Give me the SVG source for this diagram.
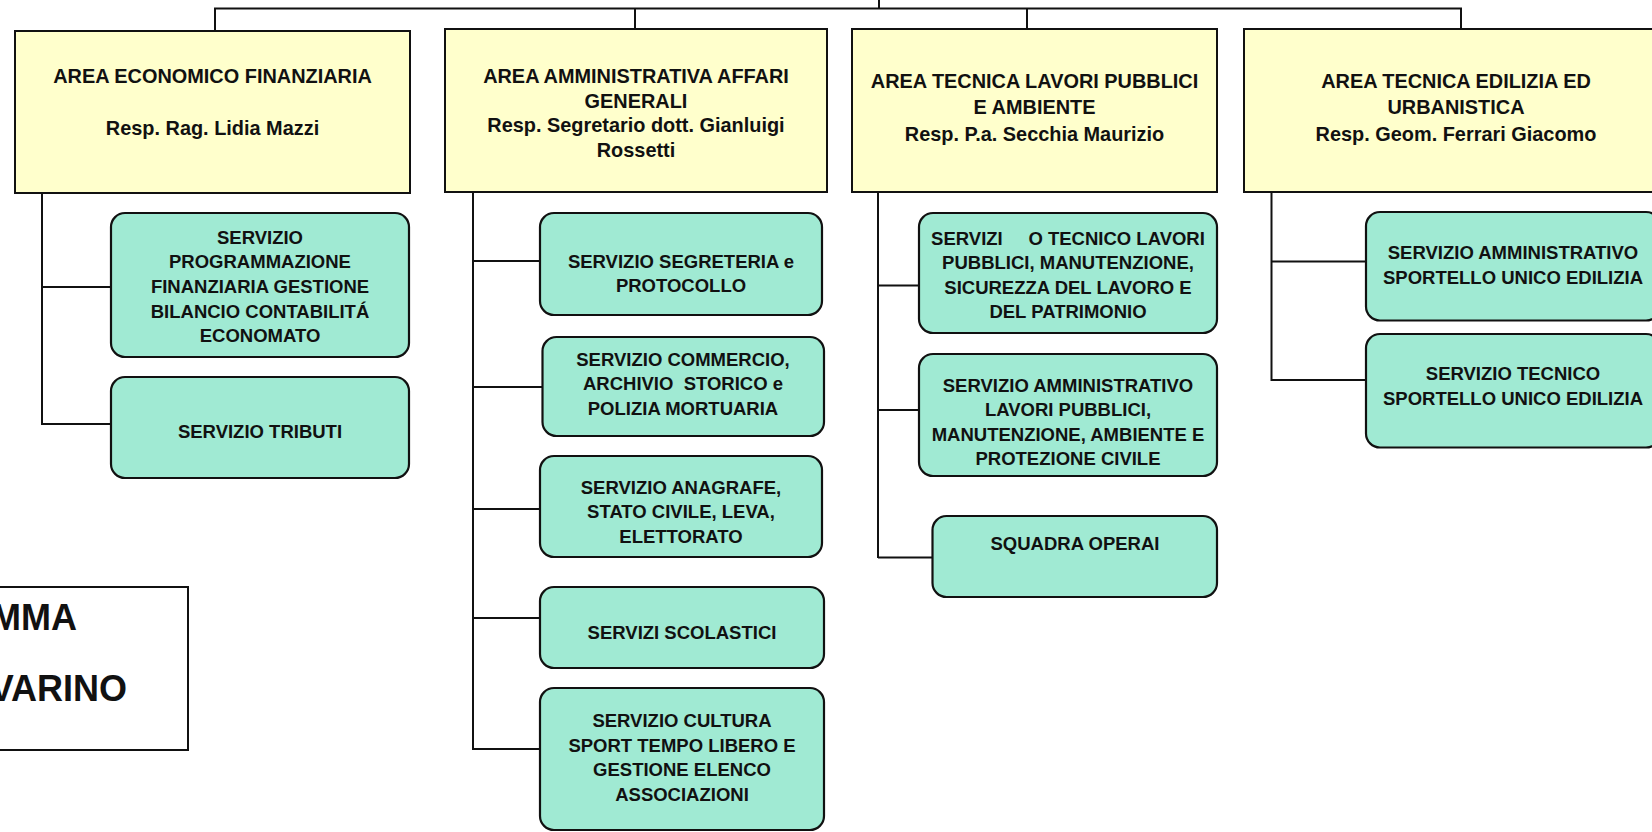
<svg xmlns="http://www.w3.org/2000/svg" width="1652" height="832" viewBox="0 0 1652 832">
<style>
  .area{fill:#FFFFCC;stroke:#111;stroke-width:2}
  .svc{fill:#A0EAD3;stroke:#111;stroke-width:2.2}
  .leg{fill:#FFFFFF;stroke:#111;stroke-width:2}
  .conn line{stroke:#111;stroke-width:2;fill:none}
  text{font-family:"Liberation Sans",Arial,sans-serif;font-weight:bold;fill:#111;text-anchor:middle}
  .h{font-size:19.9px}
  .s{font-size:18.5px}
  .big{font-size:36px;text-anchor:end}
</style>
<rect width="1652" height="832" fill="#FFFFFF"/>

<g id="connectors" class="conn">
  <line x1="879" y1="0" x2="879" y2="8.5"/>
  <line x1="214" y1="8.5" x2="1462" y2="8.5"/>
  <line x1="215" y1="8.5" x2="215" y2="31"/>
  <line x1="635" y1="8.5" x2="635" y2="29"/>
  <line x1="1027" y1="8.5" x2="1027" y2="29"/>
  <line x1="1461" y1="8.5" x2="1461" y2="29"/>
  <!-- column 1 -->
  <line x1="42" y1="193" x2="42" y2="425"/>
  <line x1="42" y1="287" x2="111" y2="287"/>
  <line x1="42" y1="424" x2="111" y2="424"/>
  <!-- column 2 -->
  <line x1="473" y1="191" x2="473" y2="750"/>
  <line x1="473" y1="261" x2="540" y2="261"/>
  <line x1="473" y1="387" x2="542" y2="387"/>
  <line x1="473" y1="509" x2="540" y2="509"/>
  <line x1="473" y1="618" x2="540" y2="618"/>
  <line x1="473" y1="749" x2="540" y2="749"/>
  <!-- column 3 -->
  <line x1="878" y1="192" x2="878" y2="558"/>
  <line x1="878" y1="285.5" x2="919" y2="285.5"/>
  <line x1="878" y1="410" x2="919" y2="410"/>
  <line x1="878" y1="557.5" x2="932" y2="557.5"/>
  <!-- column 4 -->
  <line x1="1271.5" y1="192" x2="1271.5" y2="381"/>
  <line x1="1271.5" y1="261.5" x2="1366" y2="261.5"/>
  <line x1="1271.5" y1="380" x2="1366" y2="380"/>
</g>

<g id="area1">
  <rect class="area" x="15" y="31" width="395" height="162"/>
  <text class="h" x="212.5" y="83">AREA ECONOMICO FINANZIARIA</text>
  <text class="h" x="212.5" y="134.5">Resp. Rag. Lidia Mazzi</text>
</g>
<g id="area2">
  <rect class="area" x="445" y="29" width="382" height="163"/>
  <text class="h" x="636" y="82.7">AREA AMMINISTRATIVA AFFARI</text>
  <text class="h" x="636" y="107.5">GENERALI</text>
  <text class="h" x="636" y="132">Resp. Segretario dott. Gianluigi</text>
  <text class="h" x="636" y="157.3">Rossetti</text>
</g>
<g id="area3">
  <rect class="area" x="852" y="29" width="365" height="163"/>
  <text class="h" x="1034.5" y="88">AREA TECNICA LAVORI PUBBLICI</text>
  <text class="h" x="1034.5" y="114">E AMBIENTE</text>
  <text class="h" x="1034.5" y="140.5">Resp. P.a. Secchia Maurizio</text>
</g>
<g id="area4">
  <rect class="area" x="1244" y="29" width="424" height="163"/>
  <text class="h" x="1456" y="88">AREA TECNICA EDILIZIA ED</text>
  <text class="h" x="1456" y="114">URBANISTICA</text>
  <text class="h" x="1456" y="140.5">Resp. Geom. Ferrari Giacomo</text>
</g>

<g id="svc-programmazione">
  <rect class="svc" x="111" y="213" width="298" height="144" rx="14"/>
  <text class="s" x="260" y="243.5">SERVIZIO</text>
  <text class="s" x="260" y="268.2">PROGRAMMAZIONE</text>
  <text class="s" x="260" y="292.9">FINANZIARIA GESTIONE</text>
  <text class="s" x="260" y="317.6">BILANCIO CONTABILITÁ</text>
  <text class="s" x="260" y="342.3">ECONOMATO</text>
</g>
<g id="svc-tributi">
  <rect class="svc" x="111" y="377" width="298" height="101" rx="14"/>
  <text class="s" x="260" y="438">SERVIZIO TRIBUTI</text>
</g>

<g id="svc-segreteria">
  <rect class="svc" x="540" y="213" width="282" height="102" rx="14"/>
  <text class="s" x="681" y="267.5">SERVIZIO SEGRETERIA e</text>
  <text class="s" x="681" y="292">PROTOCOLLO</text>
</g>
<g id="svc-commercio">
  <rect class="svc" x="542.5" y="337" width="281.5" height="99" rx="14"/>
  <text class="s" x="683" y="365.5" xml:space="preserve">SERVIZIO COMMERCIO,</text>
  <text class="s" x="683" y="390" xml:space="preserve">ARCHIVIO  STORICO e</text>
  <text class="s" x="683" y="414.5">POLIZIA MORTUARIA</text>
</g>
<g id="svc-anagrafe">
  <rect class="svc" x="540" y="456" width="282" height="101" rx="14"/>
  <text class="s" x="681" y="493.5">SERVIZIO ANAGRAFE,</text>
  <text class="s" x="681" y="518">STATO CIVILE, LEVA,</text>
  <text class="s" x="681" y="542.5">ELETTORATO</text>
</g>
<g id="svc-scolastici">
  <rect class="svc" x="540" y="587" width="284" height="81" rx="14"/>
  <text class="s" x="682" y="639">SERVIZI SCOLASTICI</text>
</g>
<g id="svc-cultura">
  <rect class="svc" x="540" y="688" width="284" height="142" rx="14"/>
  <text class="s" x="682" y="727">SERVIZIO CULTURA</text>
  <text class="s" x="682" y="751.5">SPORT TEMPO LIBERO E</text>
  <text class="s" x="682" y="776">GESTIONE ELENCO</text>
  <text class="s" x="682" y="800.5">ASSOCIAZIONI</text>
</g>

<g id="svc-tecnico-lp">
  <rect class="svc" x="919" y="213" width="298" height="120" rx="14"/>
  <text class="s" x="1068" y="244.5" xml:space="preserve">SERVIZI     O TECNICO LAVORI</text>
  <text class="s" x="1068" y="269">PUBBLICI, MANUTENZIONE,</text>
  <text class="s" x="1068" y="293.5">SICUREZZA DEL LAVORO E</text>
  <text class="s" x="1068" y="318">DEL PATRIMONIO</text>
</g>
<g id="svc-amm-lp">
  <rect class="svc" x="919" y="354" width="298" height="122" rx="14"/>
  <text class="s" x="1068" y="391.5">SERVIZIO AMMINISTRATIVO</text>
  <text class="s" x="1068" y="416">LAVORI PUBBLICI,</text>
  <text class="s" x="1068" y="440.5">MANUTENZIONE, AMBIENTE E</text>
  <text class="s" x="1068" y="465">PROTEZIONE CIVILE</text>
</g>
<g id="svc-squadra">
  <rect class="svc" x="932.5" y="516" width="284.5" height="81" rx="14"/>
  <text class="s" x="1075" y="550">SQUADRA OPERAI</text>
</g>

<g id="svc-amm-sue">
  <rect class="svc" x="1366" y="212" width="294" height="108.5" rx="14"/>
  <text class="s" x="1513" y="259">SERVIZIO AMMINISTRATIVO</text>
  <text class="s" x="1513" y="283.5">SPORTELLO UNICO EDILIZIA</text>
</g>
<g id="svc-tec-sue">
  <rect class="svc" x="1366" y="334" width="294" height="113.5" rx="14"/>
  <text class="s" x="1513" y="380">SERVIZIO TECNICO</text>
  <text class="s" x="1513" y="404.5">SPORTELLO UNICO EDILIZIA</text>
</g>

<g id="legend">
  <rect class="leg" x="-10" y="587" width="198" height="163"/>
  <text class="big" x="77" y="630">MMA</text>
  <text class="big" x="127" y="701">VARINO</text>
</g>
</svg>
